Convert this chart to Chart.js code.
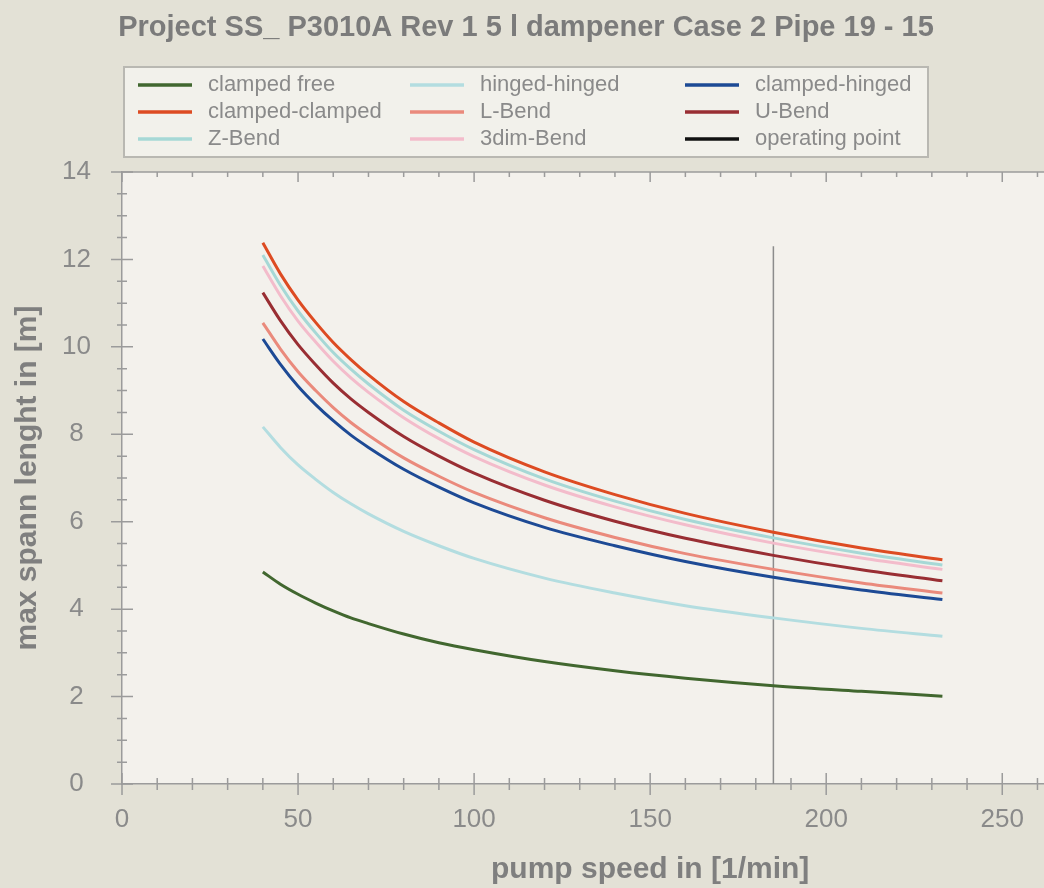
<!DOCTYPE html>
<html>
<head>
<meta charset="utf-8">
<script src="https://cdn.jsdelivr.net/npm/chart.js@4"></script>
<style>
  html, body { margin: 0; padding: 0; overflow: hidden; background: #e3e1d6; }
  #wrap { width: 1220px; height: 888px; }
</style>
</head>
<body>
<div id="wrap"><canvas id="js-span-chart"></canvas></div>
<script>
// Pump speed in 1/min (x values of every curve)
const speeds = [40, 45, 50, 55, 60, 65, 70, 80, 90, 100, 120, 140, 160, 185, 210, 233];

// Max span length in m
const clampedFree    = [4.85, 4.57, 4.34, 4.14, 3.96, 3.80, 3.67, 3.43, 3.23, 3.07, 2.80, 2.59, 2.42, 2.25, 2.12, 2.01];
const hingedHinged   = [8.17, 7.70, 7.30, 6.97, 6.67, 6.41, 6.18, 5.78, 5.45, 5.16, 4.71, 4.37, 4.08, 3.80, 3.56, 3.38];
const clampedHinged  = [10.18, 9.60, 9.10, 8.68, 8.31, 7.98, 7.70, 7.20, 6.79, 6.43, 5.87, 5.45, 5.09, 4.73, 4.44, 4.22];
const clampedClamped = [12.38, 11.67, 11.07, 10.56, 10.10, 9.71, 9.36, 8.75, 8.26, 7.82, 7.14, 6.62, 6.19, 5.76, 5.40, 5.13];
const lBend          = [10.55, 9.95, 9.43, 9.00, 8.61, 8.27, 7.98, 7.46, 7.04, 6.67, 6.09, 5.64, 5.27, 4.91, 4.60, 4.37];
const uBend          = [11.24, 10.60, 10.05, 9.59, 9.17, 8.81, 8.50, 7.95, 7.50, 7.11, 6.49, 6.01, 5.62, 5.23, 4.90, 4.65];
const zBend          = [12.10, 11.41, 10.82, 10.32, 9.87, 9.49, 9.15, 8.55, 8.07, 7.65, 6.98, 6.47, 6.05, 5.63, 5.28, 5.01];
const dim3Bend       = [11.85, 11.17, 10.59, 10.11, 9.67, 9.29, 8.96, 8.38, 7.90, 7.49, 6.84, 6.34, 5.93, 5.51, 5.17, 4.91];

// Operating point (vertical marker)
const operatingSpeed = [185, 185];
const operatingSpan = [0, 12.3];

// Axis ticks
const xTicks = [0, 50, 100, 150, 200, 250, 300];
const yTicks = [0, 2, 4, 6, 8, 10, 12, 14];

const toPoints = (xs, ys) => xs.map((x, i) => ({ x: x, y: ys[i] }));

const curve = (label, values, color) => ({
  label: label,
  data: toPoints(speeds, values),
  borderColor: color,
  borderWidth: 3,
  pointRadius: 0,
  cubicInterpolationMode: 'monotone',
});

const datasets = [
  curve('clamped free', clampedFree, '#41672f'),
  curve('hinged-hinged', hingedHinged, '#b3dde0'),
  curve('clamped-hinged', clampedHinged, '#1d4a95'),
  curve('clamped-clamped', clampedClamped, '#dd4b22'),
  curve('L-Bend', lBend, '#ea8a7c'),
  curve('U-Bend', uBend, '#992e33'),
  curve('Z-Bend', zBend, '#a6d8d6'),
  curve('3dim-Bend', dim3Bend, '#f3bccb'),
  {
    label: 'operating point',
    data: toPoints(operatingSpeed, operatingSpan),
    borderColor: '#8c8c8c',
    legendColor: '#111111',
    borderWidth: 1.5,
    pointRadius: 0,
  },
];

// Backgrounds, minor ticks, title and the three-column legend box
const decorations = {
  id: 'decorations',
  beforeDraw(chart) {
    const { ctx, chartArea: a } = chart;
    ctx.save();
    ctx.fillStyle = '#e3e1d6';
    ctx.fillRect(0, 0, chart.width, chart.height);
    ctx.fillStyle = '#f3f1ec';
    ctx.fillRect(a.left, a.top, a.right - a.left, a.bottom - a.top);
    ctx.restore();
  },
  afterDraw(chart) {
    const { ctx, chartArea: a, scales } = chart;
    const x = scales.x, y = scales.y;
    ctx.save();
    ctx.strokeStyle = '#9b9b9b';
    ctx.lineWidth = 1.5;
    // top frame line
    ctx.beginPath();
    ctx.moveTo(a.left, a.top);
    ctx.lineTo(a.right, a.top);
    ctx.stroke();
    ctx.beginPath();
    for (let v = 0; v <= 300; v += 10) {
      const px = x.getPixelForValue(v);
      const len = v % 50 === 0 ? 11 : 6;
      ctx.moveTo(px, a.bottom - len); ctx.lineTo(px, a.bottom + len);
      ctx.moveTo(px, a.top); ctx.lineTo(px, a.top + len - 1);
    }
    for (let v = 0; v <= 14; v += 0.5) {
      const py = y.getPixelForValue(v);
      const len = v % 2 === 0 ? 11 : 5;
      ctx.moveTo(a.left - len, py); ctx.lineTo(a.left + len, py);
    }
    ctx.stroke();

    // title
    ctx.fillStyle = '#7b7b7b';
    ctx.font = 'bold 29px "Liberation Sans", Arial, sans-serif';
    ctx.textAlign = 'center';
    ctx.textBaseline = 'middle';
    ctx.fillText('Project SS_ P3010A Rev 1 5 l dampener Case 2 Pipe 19 - 15', 526, 28);

    // legend box
    ctx.fillStyle = '#f2f1eb';
    ctx.fillRect(124, 67, 804, 90);
    ctx.strokeStyle = '#b9b8b2';
    ctx.lineWidth = 2;
    ctx.strokeRect(124, 67, 804, 90);
    const colX = [138, 410, 685];
    const rowY = [85, 112, 139];
    ctx.font = '22px "Liberation Sans", Arial, sans-serif';
    ctx.textAlign = 'left';
    chart.data.datasets.forEach((ds, i) => {
      const cx = colX[i % 3], cy = rowY[Math.floor(i / 3)];
      ctx.strokeStyle = ds.legendColor || ds.borderColor;
      ctx.lineWidth = 3.5;
      ctx.beginPath();
      ctx.moveTo(cx, cy); ctx.lineTo(cx + 54, cy);
      ctx.stroke();
      ctx.fillStyle = '#8a8a8a';
      ctx.fillText(ds.label, cx + 70, cy);
    });
    ctx.restore();
  },
};

const ctx = document.getElementById('js-span-chart').getContext('2d');

const config = {
  type: 'line',
  data: { datasets: datasets },
  options: {
    responsive: true,
    maintainAspectRatio: false,
    animation: false,
    layout: { padding: { top: 172, right: 23, left: 0, bottom: 0 } },
    plugins: {
      legend: { display: false },
      tooltip: { enabled: false },
    },
    scales: {
      x: {
        type: 'linear',
        min: xTicks[0],
        max: xTicks[xTicks.length - 1],
        afterBuildTicks: (s) => { s.ticks = xTicks.map(v => ({ value: v })); },
        afterFit: (s) => { s.height = 104; },
        grid: { display: false, drawTicks: false },
        border: { display: true, color: '#9b9b9b', width: 1.5 },
        ticks: {
          padding: 20,
          color: '#8a8a8a',
          font: { family: '"Liberation Sans", Arial, sans-serif', size: 26 },
        },
        title: {
          display: true,
          text: 'pump speed in [1/min]',
          color: '#7f7f7f',
          padding: { top: 0, bottom: 0 },
          font: { family: '"Liberation Sans", Arial, sans-serif', size: 30, weight: 'bold' },
        },
      },
      y: {
        min: yTicks[0],
        max: yTicks[yTicks.length - 1],
        afterBuildTicks: (s) => { s.ticks = yTicks.map(v => ({ value: v })); },
        afterFit: (s) => { s.width = 122; },
        grid: { display: false, drawTicks: false },
        border: { display: true, color: '#9b9b9b', width: 1.5 },
        ticks: {
          padding: 31,
          crossAlign: 'center',
          color: '#8a8a8a',
          font: { family: '"Liberation Sans", Arial, sans-serif', size: 26 },
        },
        title: {
          display: true,
          text: 'max spann lenght in [m]',
          color: '#7f7f7f',
          padding: { top: 10, bottom: 0 },
          font: { family: '"Liberation Sans", Arial, sans-serif', size: 30, weight: 'bold' },
        },
      },
    },
  },
  plugins: [decorations],
};

const spanChart = new Chart(ctx, config);
</script>
</body>
</html>
